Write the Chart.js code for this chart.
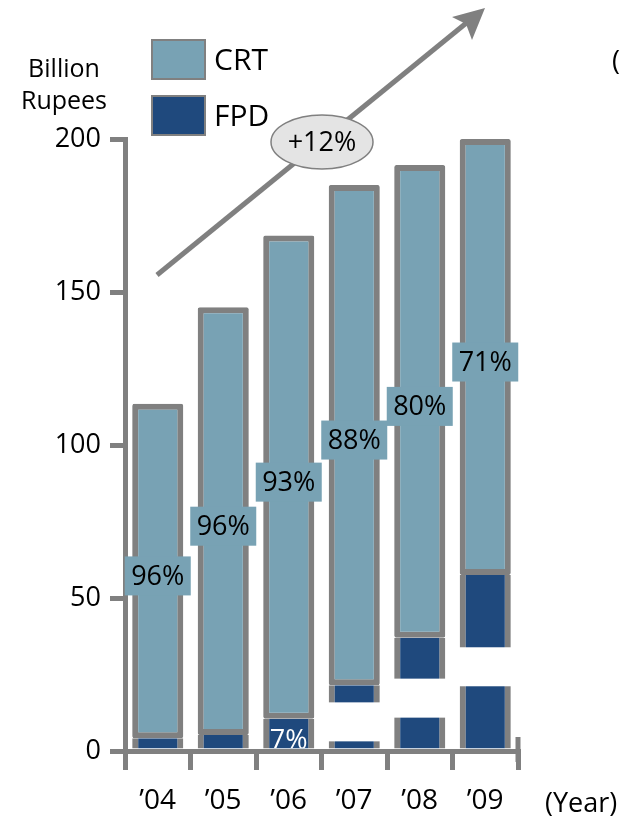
<!DOCTYPE html>
<html>
<head>
<meta charset="utf-8">
<script src="https://cdn.jsdelivr.net/npm/chart.js@4.4.1/dist/chart.umd.min.js"></script>
<style>
  html, body { margin: 0; padding: 0; background: #fff; }
  canvas { display: block; }
</style>
</head>
<body>
<canvas id="chart" width="620" height="819"></canvas>
<script>
// --- Data ---
const years = ['\u201904', '\u201905', '\u201906', '\u201907', '\u201908', '\u201909'];
const seriesNames = ['CRT', 'FPD'];
const crtValues = [109.3, 139.8, 158, 163.5, 154.5, 142.5];
const fpdValues = [4.2, 5.2, 10.5, 21.5, 37, 57.5];
const crtShareLabels = ['96%', '96%', '93%', '88%', '80%', '71%'];
const fpdShareLabels = ['4%', '4%', '7%', '12%', '20%', '29%'];
const yTicks = [0, 50, 100, 150, 200];
const growthLabel = '+12%';
const unitLines = ['Billion', 'Rupees'];
const xUnit = '(Year)';

// --- Styles ---
const GRAY = '#808080';
const CRT_COLOR = '#78a2b4';
const FPD_COLOR = '#1f497d';
const FONT = '"Open Sans", "DejaVu Sans", sans-serif';

const decorations = {
    id: 'decorations',
    afterDatasetsDraw(chart) {
        const ctx = chart.ctx;
        const area = chart.chartArea;
        const fpdMeta = chart.getDatasetMeta(0);
        const crtMeta = chart.getDatasetMeta(1);
        const boxW = 66, boxH = 39;

        ctx.save();
        ctx.font = '27px ' + FONT;
        ctx.textAlign = 'center';
        ctx.textBaseline = 'middle';

        // CRT share labels
        crtMeta.data.forEach((bar, i) => {
            const cy = (bar.y + bar.base) / 2 + 5;
            ctx.fillStyle = CRT_COLOR;
            ctx.fillRect(bar.x - boxW / 2, cy - boxH / 2, boxW, boxH);
            ctx.fillStyle = '#000';
            ctx.fillText(crtShareLabels[i], bar.x, cy + 1);
        });

        // FPD share labels (white, clipped to the plot)
        ctx.save();
        ctx.beginPath();
        ctx.rect(area.left, area.top, area.right - area.left, area.bottom - area.top - 3);
        ctx.clip();
        fpdMeta.data.forEach((bar, i) => {
            const h = bar.base - bar.y;
            if (h < 25) return;
            const cy = (bar.y + bar.base) / 2 + 5;
            if (h > boxH) {
                ctx.fillStyle = '#fff';
                ctx.fillRect(bar.x - 3 - boxW / 2, cy - boxH / 2, boxW, boxH);
            }
            ctx.fillStyle = '#fff';
            ctx.fillText(fpdShareLabels[i], bar.x, cy + 3);
        });
        ctx.restore();
        ctx.restore();
    },
    afterDraw(chart) {
        const ctx = chart.ctx;
        const area = chart.chartArea;
        ctx.save();

        // closing tick at the right end of the x axis
        ctx.strokeStyle = GRAY;
        ctx.lineWidth = 5;
        ctx.beginPath();
        ctx.moveTo(area.right, area.bottom - 14);
        ctx.lineTo(area.right, area.bottom + 11);
        ctx.stroke();

        // unit label
        ctx.fillStyle = '#000';
        ctx.font = '25px ' + FONT;
        ctx.textAlign = 'center';
        ctx.textBaseline = 'middle';
        ctx.fillText(unitLines[0], 64, 70);
        ctx.fillText(unitLines[1], 64, 102);

        // legend
        const colors = [CRT_COLOR, FPD_COLOR];
        seriesNames.forEach((name, i) => {
            const y = 40 + i * 56;
            ctx.fillStyle = colors[i];
            ctx.fillRect(152, y, 53, 39);
            ctx.strokeStyle = GRAY;
            ctx.lineWidth = 2;
            ctx.strokeRect(152, y, 53, 39);
            ctx.fillStyle = '#000';
            ctx.font = '30px ' + FONT;
            ctx.textAlign = 'left';
            ctx.fillText(name, 214, y + 21);
        });

        // growth arrow
        ctx.strokeStyle = GRAY;
        ctx.fillStyle = GRAY;
        ctx.lineWidth = 5;
        ctx.beginPath();
        ctx.moveTo(157, 275);
        ctx.lineTo(470, 20);
        ctx.stroke();
        ctx.beginPath();
        ctx.moveTo(485, 8);
        ctx.lineTo(452, 17);
        ctx.lineTo(466, 24);
        ctx.lineTo(472, 40);
        ctx.closePath();
        ctx.fill();

        // growth bubble
        ctx.beginPath();
        ctx.ellipse(322, 142, 51, 27, 0, 0, Math.PI * 2);
        ctx.fillStyle = '#e4e4e4';
        ctx.fill();
        ctx.lineWidth = 1.5;
        ctx.stroke();
        ctx.fillStyle = '#000';
        ctx.font = '27px ' + FONT;
        ctx.textAlign = 'center';
        ctx.fillText(growthLabel, 322, 143);

        // x unit
        ctx.textAlign = 'left';
        ctx.font = '27px ' + FONT;
        ctx.fillText(xUnit, area.right + 27, 804);

        // cut-off glyph at the right edge
        ctx.fillText('(', 612, 62);
        ctx.restore();
    }
};

new Chart(document.getElementById('chart'), {
    type: 'bar',
    data: {
        labels: years,
        datasets: [
            {
                label: seriesNames[1],
                data: fpdValues,
                backgroundColor: FPD_COLOR,
                borderColor: GRAY,
                borderWidth: { top: 0, left: 6, right: 6, bottom: 0 },
                borderSkipped: false,
                stack: 's'
            },
            {
                label: seriesNames[0],
                data: crtValues,
                backgroundColor: CRT_COLOR,
                borderColor: GRAY,
                borderWidth: { top: 6, left: 6, right: 6, bottom: 6 },
                borderSkipped: false,
                borderRadius: 2,
                stack: 's'
            }
        ]
    },
    options: {
        responsive: false,
        devicePixelRatio: 1,
        animation: false,
        layout: { padding: { left: 0, right: 102, top: 139, bottom: 0 } },
        datasets: { bar: { barPercentage: 0.78, categoryPercentage: 1 } },
        plugins: {
            legend: { display: false },
            tooltip: { enabled: false }
        },
        scales: {
            x: {
                stacked: true,
                z: 1,
                grid: {
                    display: true,
                    offset: true,
                    drawOnChartArea: false,
                    drawTicks: true,
                    tickLength: 19,
                    color: GRAY,
                    lineWidth: 5
                },
                border: { display: true, color: GRAY, width: 5 },
                ticks: {
                    color: '#000',
                    font: { family: FONT, size: 28 },
                    padding: 14
                },
                afterFit(scale) { scale.height = 68; }
            },
            y: {
                stacked: true,
                min: 0,
                max: 200,
                afterBuildTicks(scale) { scale.ticks = yTicks.map(v => ({ value: v })); },
                grid: {
                    display: true,
                    drawOnChartArea: false,
                    drawTicks: true,
                    tickLength: 15,
                    color: GRAY,
                    lineWidth: 5
                },
                border: { display: true, color: GRAY, width: 5 },
                ticks: {
                    color: '#000',
                    font: { family: FONT, size: 27 },
                    padding: 9
                },
                afterFit(scale) { scale.width = 125; }
            }
        }
    },
    plugins: [decorations]
});
</script>
</body>
</html>
